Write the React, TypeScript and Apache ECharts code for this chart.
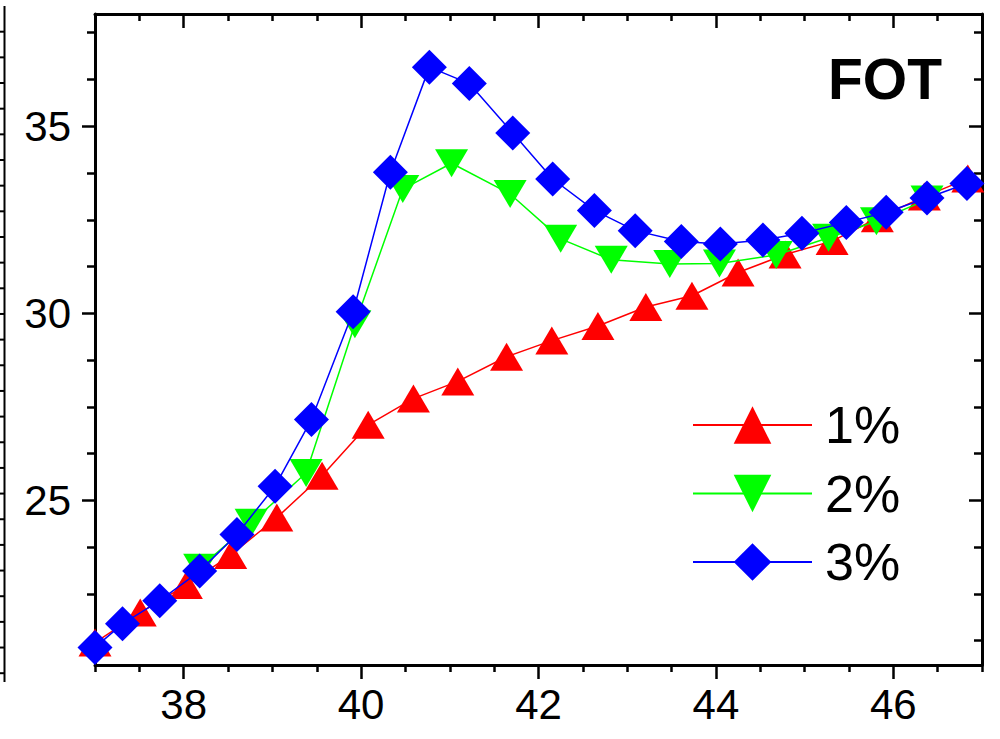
import React, { useEffect, useRef } from "react";
import * as echarts from "echarts";

// ---- data ----
const seriesNames = ["1%", "2%", "3%"];

const redX = [37.0, 37.51, 38.03, 38.53, 39.05, 39.56, 40.08, 40.59, 41.09, 41.64, 42.15, 42.67, 43.21, 43.73, 44.25, 44.78, 45.31, 45.82, 46.35, 46.84];
const redY = [21.2, 22.0, 22.74, 23.54, 24.54, 25.66, 27.02, 27.72, 28.18, 28.84, 29.27, 29.66, 30.17, 30.47, 31.09, 31.57, 31.93, 32.54, 33.12, 33.6];

const greenX = [38.18, 38.76, 39.38, 39.93, 40.47, 41.02, 41.68, 42.25, 42.82, 43.48, 44.04, 44.68, 45.27, 45.81, 46.38];
const greenY = [23.2, 24.4, 25.73, 29.71, 33.32, 34.01, 33.19, 31.99, 31.43, 31.32, 31.33, 31.56, 32.02, 32.46, 33.04];

const blueX = [37.0, 37.31, 37.73, 38.18, 38.6, 39.03, 39.44, 39.91, 40.33, 40.77, 41.22, 41.71, 42.16, 42.63, 43.09, 43.61, 44.05, 44.53, 44.97, 45.47, 45.92, 46.38, 46.83];
const blueY = [21.07, 21.7, 22.32, 23.11, 24.09, 25.38, 27.16, 30.04, 33.77, 36.58, 36.14, 34.82, 33.59, 32.75, 32.21, 31.92, 31.85, 31.96, 32.14, 32.43, 32.7, 33.08, 33.47];

const xMajorTicks = [38, 40, 42, 44, 46];
const xMinorTicks = [37, 37.5, 38.5, 39, 39.5, 40.5, 41, 41.5, 42.5, 43, 43.5, 44.5, 45, 45.5, 46.5, 47];
const yMajorTicks = [25, 30, 35];
const yMinorTicks = [21.25, 22.5, 23.75, 26.25, 27.5, 28.75, 31.25, 32.5, 33.75, 36.25, 37.5];

const xRange = [37, 47];
const yRange = [20.6, 38.0];

const titleText = "FOT";

const FONT = "'Liberation Sans', Arial, Helvetica, sans-serif";

const zip = (xs: number[], ys: number[]) => xs.map((x, i) => [x, ys[i]]);

export default function App() {
  const ref = useRef<HTMLDivElement>(null);

  useEffect(() => {
    if (!ref.current) return;
    const chart = echarts.init(ref.current, undefined, { renderer: "svg" });

    const axisLineStyle = { color: "#000", width: 3 };
    const tickStyle = { color: "#000", width: 2.5 };

    const mkX = (position: string, major: boolean, inside: boolean, showLine: boolean, showLabel: boolean) => ({
      type: "value",
      min: xRange[0],
      max: xRange[1],
      position,
      axisLine: { show: showLine, onZero: false, lineStyle: axisLineStyle },
      axisTick: {
        show: true,
        inside,
        length: major ? 14 : 7,
        customValues: major ? xMajorTicks : xMinorTicks,
        lineStyle: tickStyle,
      },
      axisLabel: {
        show: showLabel,
        customValues: xMajorTicks,
        fontSize: 42,
        color: "#000",
        fontFamily: FONT,
        margin: 18,
      },
      splitLine: { show: false },
    });

    const mkY = (position: string, major: boolean, inside: boolean, showLine: boolean, showLabel: boolean) => ({
      type: "value",
      min: yRange[0],
      max: yRange[1],
      position,
      axisLine: { show: showLine, onZero: false, lineStyle: axisLineStyle },
      axisTick: {
        show: true,
        inside,
        length: major ? 13 : 8,
        customValues: major ? yMajorTicks : yMinorTicks,
        lineStyle: tickStyle,
      },
      axisLabel: {
        show: showLabel,
        customValues: yMajorTicks,
        fontSize: 42,
        color: "#000",
        fontFamily: FONT,
        margin: 24,
      },
      splitLine: { show: false },
    });

    // decorative fragment of a neighbouring panel at the very left edge
    const fragment: any[] = [
      { type: "line", shape: { x1: 4.5, y1: 6, x2: 4.5, y2: 682 }, style: { stroke: "#000", lineWidth: 2 } },
    ];
    for (let y = 31.7; y < 680; y += 25.66) {
      fragment.push({ type: "line", shape: { x1: 0, y1: y, x2: 4.5, y2: y }, style: { stroke: "#000", lineWidth: 2 } });
    }

    const option: any = {
      animation: false,
      backgroundColor: "#fff",
      grid: { left: 95, right: 18, top: 14, bottom: 74, containLabel: false, outerBoundsMode: "none" },
      xAxis: [
        mkX("bottom", true, false, true, true),
        mkX("bottom", false, false, false, false),
        mkX("top", true, true, true, false),
        mkX("top", false, true, false, false),
      ],
      yAxis: [
        mkY("left", true, false, true, true),
        mkY("left", false, false, false, false),
        mkY("right", true, true, true, false),
        mkY("right", false, true, false, false),
      ],
      legend: {
        orient: "vertical",
        left: 692,
        top: 399,
        padding: 0,
        itemWidth: 119,
        itemHeight: 47,
        itemGap: 16.5,
        data: seriesNames,
        textStyle: { fontSize: 52, color: "#000", fontFamily: FONT, padding: [0, 0, 0, 8] },
      },
      graphic: [
        {
          type: "text",
          left: 828,
          top: 50,
          style: { text: titleText, fontSize: 57, fontWeight: "bold", fill: "#000", fontFamily: FONT },
        },
        ...fragment,
      ],
      series: [
        {
          name: seriesNames[0],
          type: "line",
          data: zip(redX, redY),
          symbol: "triangle",
          symbolSize: [33, 28],
          itemStyle: { color: "#ff0000" },
          lineStyle: { color: "#ff0000", width: 1.5 },
          z: 2,
        },
        {
          name: seriesNames[1],
          type: "line",
          data: zip(greenX, greenY),
          symbol: "path://M0,0 L20,0 L10,17 Z",
          symbolSize: [33, 28],
          itemStyle: { color: "#00ff00" },
          lineStyle: { color: "#00ff00", width: 1.5 },
          z: 3,
        },
        {
          name: seriesNames[2],
          type: "line",
          data: zip(blueX, blueY),
          symbol: "diamond",
          symbolSize: 35,
          itemStyle: { color: "#0000ff" },
          lineStyle: { color: "#0000ff", width: 1.5 },
          z: 4,
        },
      ],
    };

    chart.setOption(option);
    return () => chart.dispose();
  }, []);

  return (
    <div
      ref={ref}
      style={{ position: "absolute", left: 0, top: 0, width: 1000, height: 739, background: "#fff" }}
    />
  );
}
